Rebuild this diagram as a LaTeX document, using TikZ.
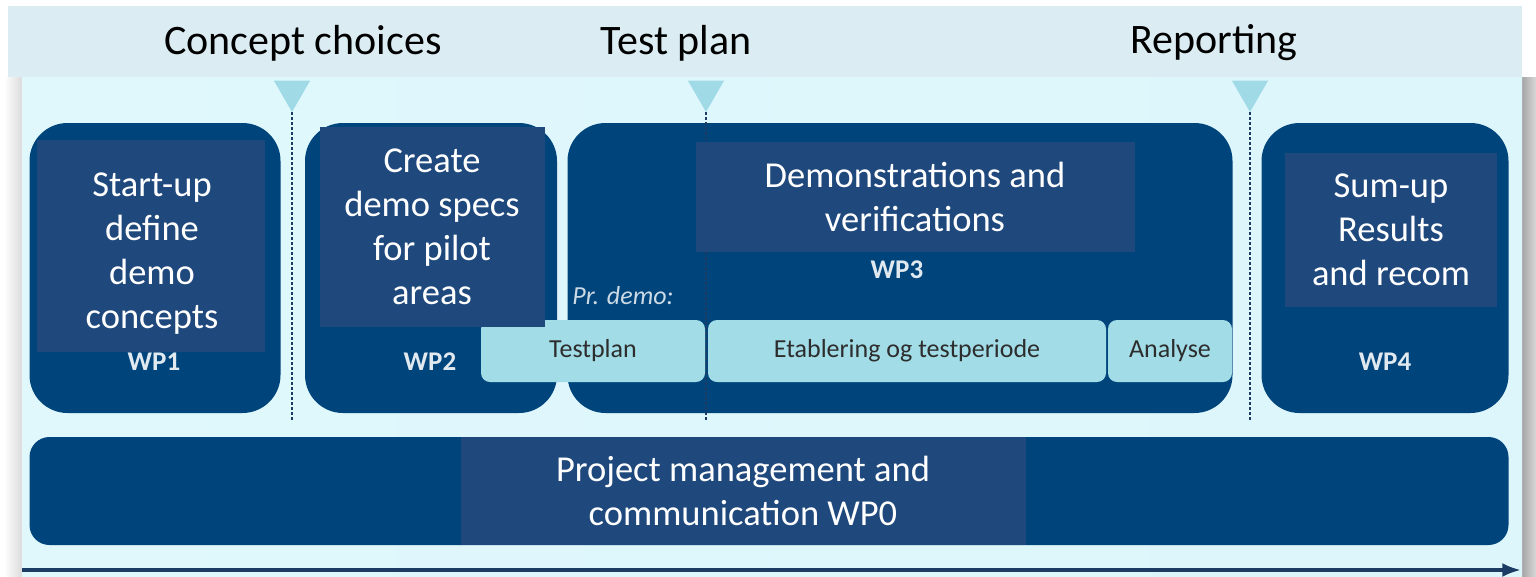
\documentclass[tikz,border=0pt]{standalone}
\usepackage{fontspec}
\setmainfont{Carlito}
\usetikzlibrary{shapes.geometric, arrows.meta}

\definecolor{navy}{RGB}{0,68,124}
\definecolor{overlay}{RGB}{31,72,124}
\definecolor{bar}{RGB}{161,220,231}
\definecolor{band}{RGB}{219,237,242}
\definecolor{milestone}{RGB}{160,218,230}
\definecolor{barText}{RGB}{45,45,45}
\definecolor{timeline}{RGB}{28,60,100}

\begin{document}
\begin{tikzpicture}[
    x=1pt, y=-1pt,
    >=Latex,
    wpbox/.style={
        fill=navy, rounded corners=38pt, inner sep=0pt
    },
    textbox/.style={
        fill=overlay, text=white, align=center, inner sep=0pt,
        font=\fontsize{36.5}{44}\selectfont
    },
    wplabel/.style={
        text=white!88!navy, font=\fontsize{27}{29}\selectfont\bfseries
    },
    phase/.style={
        fill=bar, rounded corners=9pt, inner sep=0pt,
        minimum height=62pt, text=barText, font=\fontsize{26}{28}\selectfont
    },
    milestonemark/.style={
        regular polygon, regular polygon sides=3, shape border rotate=180,
        fill=milestone, minimum size=42pt, inner sep=0pt
    },
    gate/.style={
        draw=timeline, densely dashed, line width=1.4pt
    },
    heading/.style={
        font=\fontsize{42}{46}\selectfont, text=black
    }
]

\useasboundingbox (0,0) rectangle (1536,576);

% -------------------------
% Background
% -------------------------
\fill[white] (0,0) rectangle (1536,576);
\shade[left color=white, right color=black!14] (4,77) rectangle (22,576);
\shade[left color=black!35, right color=black!15] (1522,77) rectangle (1536,576);
\shade[left color={rgb,255:red,224;green,248;blue,252},
       middle color={rgb,255:red,190;green,226;blue,250},
       right color={rgb,255:red,220;green,246;blue,251}]
    (22,77) rectangle (1522,576);
\fill[band] (8,6) rectangle (1522,77);

% Milestone headings
\node[heading] (hConcept) at (303,43) {Concept choices};
\node[heading] (hTest) at (676,43) {Test plan};
\node[heading] (hReport) at (1214,43) {Reporting};

% -------------------------
% Work packages
% -------------------------
\node[wpbox, minimum width=251pt, minimum height=290pt] (wp1) at (155,268) {};
\node[wpbox, minimum width=252pt, minimum height=290pt] (wp2) at (431,268) {};
\node[wpbox, minimum width=665pt, minimum height=290pt] (wp3) at (900,268) {};
\node[wpbox, minimum width=247pt, minimum height=290pt] (wp4) at (1385,268) {};
\node[wpbox, rounded corners=20pt, minimum width=1479pt, minimum height=108pt] (wp0) at (769,491) {};

% Milestones and gates
\node[milestonemark] (m1) at (292,91) {};
\node[milestonemark] (m2) at (706,91) {};
\node[milestonemark] (m3) at (1250,91) {};
\coordinate (g1) at (292,422);
\coordinate (g2) at (706,420);
\coordinate (g3) at (1250,422);
\draw[gate] (m1.south) -- (g1);
\draw[gate] (m2.south) -- (g2);
\draw[gate] (m3.south) -- (g3);

% WP labels
\node[wplabel] (l1) at (154,362) {WP1};
\node[wplabel] (l2) at (430,362) {WP2};
\node[wplabel] (l3) at (897,270) {WP3};
\node[wplabel] (l4) at (1385,362) {WP4};

% Phases of WP3
\node[text=white!80!navy, font=\fontsize{26}{28}\selectfont\itshape] (prdemo) at (623,296) {Pr. demo:};
\node[phase, minimum width=224pt] (testplan) at (593,351) {Testplan};
\node[phase, minimum width=398pt] (etab) at (907,351) {Etablering og testperiode};
\node[phase, minimum width=124pt] (analyse) at (1170,351) {Analyse};

% -------------------------
% Text overlays
% -------------------------
\node[textbox, minimum width=228pt, minimum height=212pt] (t1) at (151,246) {};
\node[textbox, fill=none] (t1text) at (152,254) {Start-up\\define\\demo\\concepts};
\node[textbox, minimum width=225pt, minimum height=200pt] (t2) at (432,227) {Create\\demo specs\\for pilot\\areas};
\node[textbox, minimum width=439pt, minimum height=110pt] (t3) at (915,197) {Demonstrations and\\verifications};
\node[textbox, minimum width=212pt, minimum height=154pt] (t4) at (1391,230) {Sum-up\\Results\\and recom};
\node[textbox, minimum width=565pt, minimum height=108pt] (t0) at (743,491) {Project management and\\communication WP0};

% Timeline
\coordinate (tStart) at (22,570);
\coordinate (tEnd) at (1521,570);
\draw[->, timeline, line width=3.5pt] (tStart) -- (tEnd);

\end{tikzpicture}
\end{document}
